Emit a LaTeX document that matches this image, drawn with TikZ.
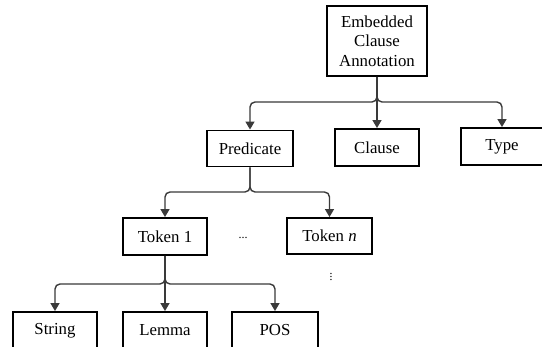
\documentclass[tikz,border=0pt]{standalone}
\usepackage{fontspec}
\setmainfont{Liberation Serif}
\usetikzlibrary{arrows.meta}
\definecolor{conncol}{HTML}{3A3A3A}
\begin{document}
\begin{tikzpicture}[x=1pt,y=-1pt,
  box/.style={draw=black, line width=1.9pt, fill=white, inner sep=0pt, align=center,
    font=\fontsize{16.8}{19.5}\selectfont},
  conn/.style={draw=conncol, line width=1.4pt, rounded corners=5pt,
    -{Triangle[width=9pt,length=8pt]}},
]
\useasboundingbox (0,0) rectangle (542,347);
\clip (0,0) rectangle (542,347);
\fill[white] (0,0) rectangle (542,347);

\node[box, minimum width=100pt, minimum height=70pt] (top) at (377,41) {Embedded\\Clause\\Annotation};
\node[box, minimum width=86pt, minimum height=36pt] (pred) at (250,148.5) {Predicate};
\node[box, minimum width=84pt, minimum height=37pt] (clause) at (377,147.5) {Clause};
\node[box, minimum width=82pt, minimum height=37pt] (type) at (502,146.5) {Type};

\node[box, minimum width=84pt, minimum height=37pt] (tok1) at (165,236.5) {Token 1};
\node[box, minimum width=85pt, minimum height=36pt] (tokn) at (329.5,236) {Token \textit{n}};
\node[font=\fontsize{12}{14}\selectfont] (hdots) at (243,238) {...};
\node[font=\fontsize{12}{14}\selectfont, rotate=90] (vdots) at (331,277) {...};

\node[box, minimum width=84pt, minimum height=37pt] (string) at (55,330.5) {String};
\node[box, minimum width=84pt, minimum height=37pt] (lemma) at (165,330.5) {Lemma};
\node[box, minimum width=86pt, minimum height=37pt] (pos) at (275,330.5) {POS};

\coordinate (b1) at (377,102);
\coordinate (b2) at (250,192);
\coordinate (b3) at (165,284);

\draw[conn] (top.south) -- (top.south |- b1) -| (pred.north);
\draw[conn] (top.south) -- (clause.north);
\draw[conn] (top.south) -- (top.south |- b1) -| (type.north);

\draw[conn] (pred.south) -- (pred.south |- b2) -| (tok1.north);
\draw[conn] (pred.south) -- (pred.south |- b2) -| (tokn.north);

\draw[conn] (tok1.south) -- (tok1.south |- b3) -| (string.north);
\draw[conn] (tok1.south) -- (lemma.north);
\draw[conn] (tok1.south) -- (tok1.south |- b3) -| (pos.north);
\end{tikzpicture}
\end{document}
